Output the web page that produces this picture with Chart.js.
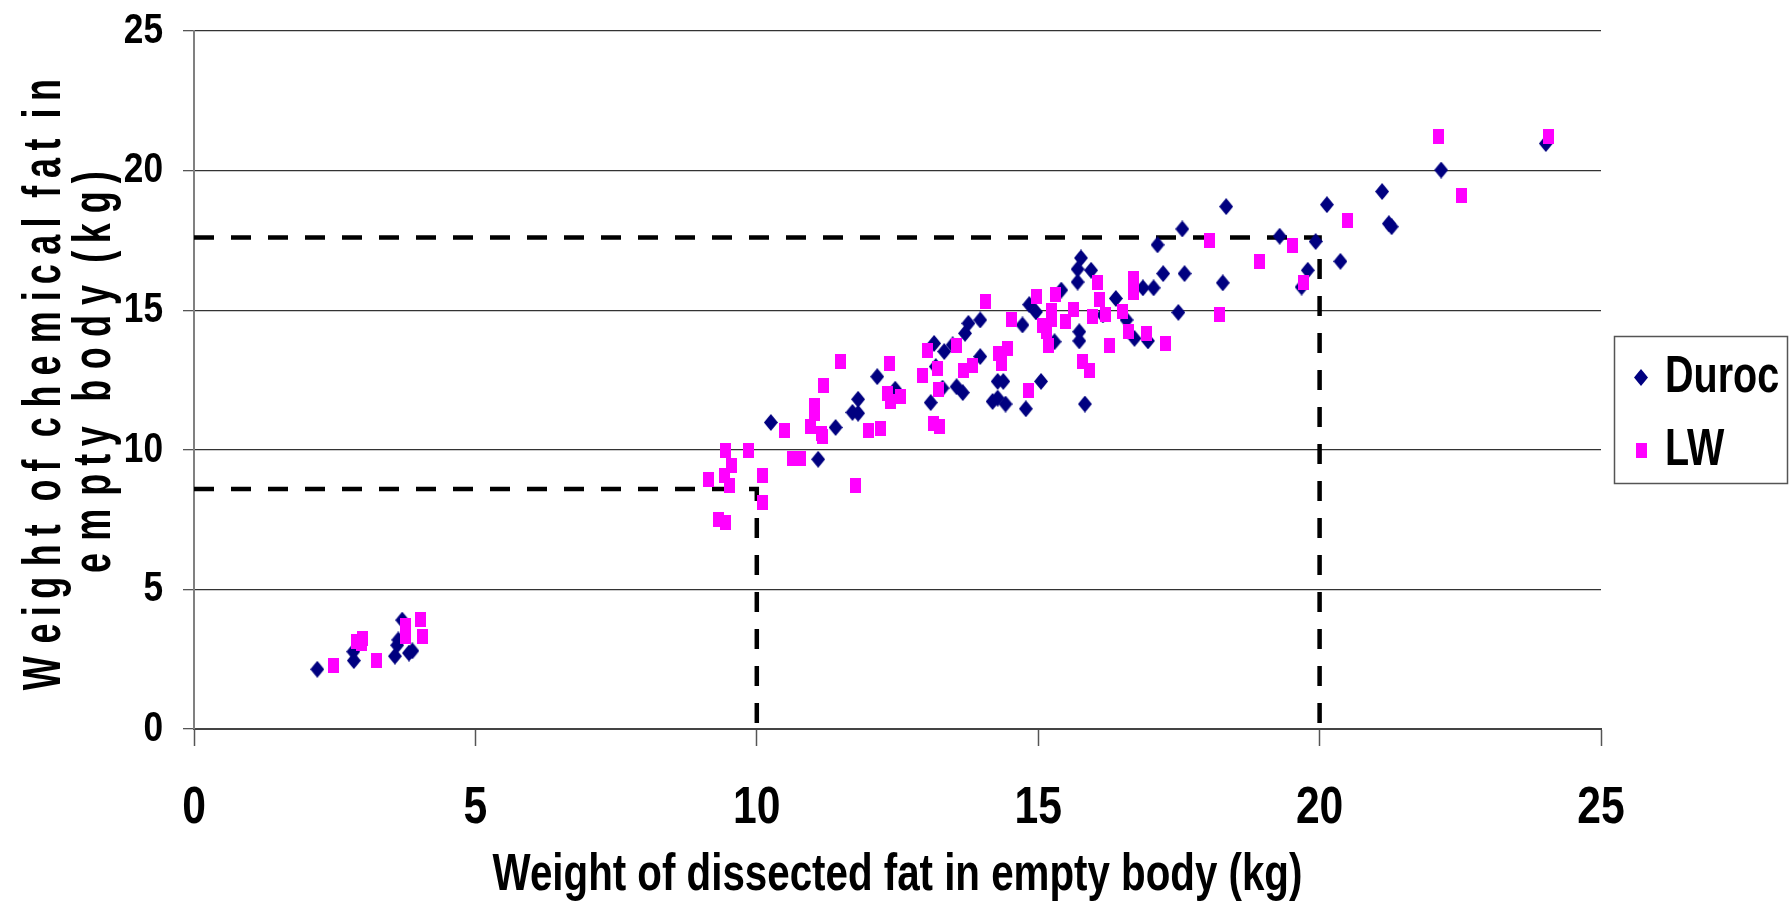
<!DOCTYPE html>
<html>
<head>
<meta charset="utf-8">
<script src="https://cdn.jsdelivr.net/npm/chart.js@4.4.0/dist/chart.umd.min.js"></script>
<style>
  html, body { margin: 0; padding: 0; background: #fff; }
  #wrap { width: 1789px; height: 909px; }
</style>
</head>
<body>
<div id="wrap"><canvas id="fatChart" width="1789" height="909"></canvas></div>
<script>
// [dissected fat, chemical fat] in kg
const durocData = [
  [2.19, 2.14], [2.83, 2.77], [2.84, 2.45], [3.70, 3.90], [3.63, 3.19], [3.61, 3.00],
  [3.57, 2.61], [3.88, 2.80], [3.82, 2.72],
  [10.25, 10.98], [11.40, 10.80], [11.09, 9.66], [11.80, 11.81], [11.70, 11.34], [11.80, 11.31],
  [13.09, 11.69], [13.55, 12.26], [13.66, 12.05], [12.46, 12.17], [12.14, 12.62], [13.15, 13.81],
  [13.33, 13.52], [13.48, 13.76], [13.18, 12.98], [13.30, 12.21], [13.70, 14.17], [13.76, 14.53],
  [13.97, 14.65], [13.97, 13.34], [14.28, 12.45], [14.38, 12.45], [14.19, 11.73], [14.28, 11.85],
  [14.42, 11.64], [14.72, 14.47], [14.78, 11.47], [15.05, 12.45], [14.84, 15.20], [14.96, 14.94],
  [15.29, 13.87], [15.41, 15.72], [15.76, 16.87], [15.70, 16.47], [15.70, 16.01], [15.94, 16.43],
  [15.73, 14.23], [15.73, 13.90], [15.83, 11.64], [16.38, 15.42], [16.15, 14.83], [16.57, 14.65],
  [16.71, 13.99], [16.95, 13.90], [16.86, 15.80], [17.05, 15.80], [17.22, 16.31], [17.49, 14.92],
  [17.56, 17.91], [17.12, 17.34], [17.60, 16.31], [18.34, 18.71], [18.28, 15.98], [19.29, 17.65],
  [19.93, 17.46], [20.13, 18.78], [20.37, 16.75], [19.79, 16.43], [19.68, 15.83], [21.11, 19.25],
  [21.23, 18.10], [21.28, 17.99], [22.16, 20.02], [24.02, 20.97]
];

const lwData = [
  [2.48, 2.26], [2.89, 3.13], [2.98, 3.08], [3.00, 3.25], [3.25, 2.44], [3.75, 3.72],
  [3.75, 3.33], [4.03, 3.93], [4.06, 3.33],
  [9.45, 9.97], [9.86, 9.97], [9.55, 9.43], [9.15, 8.94], [9.42, 9.07], [9.52, 8.73],
  [10.10, 9.07], [10.10, 8.11], [9.32, 7.49], [9.45, 7.39], [10.50, 10.68], [11.02, 11.57],
  [11.03, 11.31], [10.95, 10.85], [11.15, 10.59], [11.16, 10.47], [11.18, 12.32], [10.64, 9.69],
  [10.77, 9.69], [11.75, 8.73], [11.99, 10.68], [12.19, 10.77], [12.33, 12.00], [12.37, 11.72],
  [12.56, 11.90], [13.14, 10.95], [13.24, 10.85], [13.23, 12.15], [11.49, 13.18], [12.36, 13.10],
  [12.94, 12.66], [13.04, 13.54], [13.21, 12.92], [13.55, 13.72], [13.68, 12.83], [13.83, 13.01],
  [14.06, 15.30], [14.30, 13.46], [14.46, 13.64], [14.35, 13.10], [14.53, 14.68], [14.83, 12.11],
  [14.97, 15.48], [15.08, 14.44], [15.14, 14.23], [15.18, 13.73], [15.23, 15.00], [15.23, 14.65],
  [15.31, 15.56], [15.49, 14.61], [15.62, 15.04], [15.78, 13.18], [15.91, 12.83], [15.96, 14.76],
  [16.06, 16.01], [16.09, 15.40], [16.20, 14.85], [16.26, 13.72], [16.49, 14.94], [16.60, 14.25],
  [16.69, 16.13], [16.69, 15.63], [16.93, 14.17], [17.27, 13.81], [18.05, 17.50], [19.51, 17.32],
  [20.49, 18.21], [18.93, 16.73], [19.71, 16.01], [18.22, 14.85], [22.11, 21.21], [24.07, 21.21],
  [22.52, 19.10]
];

// dashed read-off guides
const guideLow = [[0, 8.6], [10, 8.6], [10, 0]];
const guideHigh = [[0, 17.6], [20, 17.6], [20, 0]];

const axisTicks = [0, 5, 10, 15, 20, 25];
const legendLabels = ['Duroc', 'LW'];
const xTitle = 'Weight of dissected fat in empty body (kg)';
const yTitle = ['Weight of chemical fat in', 'empty body (kg)'];

const DUROC_COLOR = '#000080';
const LW_COLOR = '#ff00ff';
const FONT = "'Liberation Sans', Arial, sans-serif";

function toPoints(rows) {
    return rows.map(r => ({ x: r[0], y: r[1] }));
}

function makeDiamond(w, h, color) {
    let c = document.createElement('canvas');
    c.width = w;
    c.height = h;
    let g = c.getContext('2d');
    g.fillStyle = color;
    g.beginPath();
    g.moveTo(w / 2, 0);
    g.lineTo(w, h / 2);
    g.lineTo(w / 2, h);
    g.lineTo(0, h / 2);
    g.closePath();
    g.fill();
    return c;
}

function makeBox(w, h, color) {
    let c = document.createElement('canvas');
    c.width = w;
    c.height = h;
    let g = c.getContext('2d');
    g.fillStyle = color;
    g.fillRect(0, 0, w, h);
    return c;
}

const durocMarker = makeDiamond(14, 17, DUROC_COLOR);
const lwMarker = makeBox(11, 15, LW_COLOR);

function guideDataset(label, rows) {
    return {
        label: label,
        data: toPoints(rows),
        showLine: true,
        borderColor: '#000',
        borderWidth: 4.5,
        borderDash: [20, 17],
        borderCapStyle: 'butt',
        borderJoinStyle: 'miter',
        pointRadius: 0,
        fill: false,
        order: 2,
    };
}

// the original text is horizontally condensed, so draw it squeezed
function drawSqueezed(ctx, text, x, y, k) {
    ctx.save();
    ctx.translate(x, y);
    ctx.scale(k, 1);
    ctx.fillText(text, 0, 0);
    ctx.restore();
}

const squeezedText = {
    id: 'squeezedText',
    afterDraw(chart, args, opts) {
        let ctx = chart.ctx;
        let xs = chart.scales.x;
        let ys = chart.scales.y;
        ctx.save();
        ctx.fillStyle = '#000';
        ctx.textBaseline = 'middle';

        ctx.font = 'bold ' + opts.xTickSize + 'px ' + FONT;
        ctx.textAlign = 'center';
        xs.ticks.forEach(t => {
            drawSqueezed(ctx, t.label, xs.getPixelForValue(t.value), xs.top + opts.xTickOffset, opts.squeeze);
        });

        ctx.font = 'bold ' + opts.yTickSize + 'px ' + FONT;
        ctx.textAlign = 'right';
        ys.ticks.forEach(t => {
            drawSqueezed(ctx, t.label, ys.right - opts.yTickOffset, ys.getPixelForValue(t.value), opts.squeeze);
        });

        ctx.font = 'bold ' + opts.titleSize + 'px ' + FONT;
        ctx.textAlign = 'center';
        drawSqueezed(ctx, xTitle, (xs.left + xs.right) / 2, xs.top + opts.titleOffset, opts.titleSqueeze);

        // rotated y title: glyphs are thin along the line but keep normal spacing
        ctx.font = 'bold ' + opts.yTitleSize + 'px ' + FONT;
        ctx.textBaseline = 'alphabetic';
        ctx.rotate(-Math.PI / 2);
        yTitle.forEach((line, i) => {
            let chars = Array.from(line);
            let widths = chars.map(ch => ctx.measureText(ch).width);
            let u = -opts.yTitleCenters[i] - widths.reduce((a, b) => a + b, 0) / 2;
            chars.forEach((ch, j) => {
                drawSqueezed(ctx, ch, u + widths[j] / 2, opts.yTitleBaselines[i], opts.yTitleSqueeze);
                u += widths[j];
            });
        });
        ctx.restore();
    }
};

// excel-like legend box to the right of the plot
const boxLegend = {
    id: 'boxLegend',
    afterDraw(chart, args, opts) {
        let ctx = chart.ctx;
        ctx.save();
        ctx.strokeStyle = opts.borderColor;
        ctx.lineWidth = opts.borderWidth;
        ctx.strokeRect(opts.left, opts.top, opts.width, opts.height);
        ctx.font = 'bold ' + opts.fontSize + 'px ' + FONT;
        ctx.fillStyle = '#000';
        ctx.textBaseline = 'middle';
        ctx.textAlign = 'left';
        opts.labels.forEach((label, i) => {
            let ds = chart.data.datasets.find(d => d.label === label);
            let y = opts.top + opts.firstRow + i * opts.rowGap;
            let img = ds.pointStyle;
            ctx.drawImage(img, Math.round(opts.markerX - img.width / 2), Math.round(y - img.height / 2));
            drawSqueezed(ctx, label, opts.textX, y, opts.squeeze);
        });
        ctx.restore();
    }
};

let config = {
    type: 'scatter',
    data: {
        datasets: [
            {
                label: 'LW',
                data: toPoints(lwData),
                pointStyle: lwMarker,
                pointRadius: 7,
                backgroundColor: LW_COLOR,
                borderColor: LW_COLOR,
                order: 0,
            },
            {
                label: 'Duroc',
                data: toPoints(durocData),
                pointStyle: durocMarker,
                pointRadius: 7,
                backgroundColor: DUROC_COLOR,
                borderColor: DUROC_COLOR,
                order: 1,
            },
            guideDataset('guideLow', guideLow),
            guideDataset('guideHigh', guideHigh),
        ],
    },
    options: {
        responsive: false,
        animation: false,
        devicePixelRatio: 1,
        events: [],
        layout: {
            padding: { left: 0, top: 31, right: 188, bottom: 0 },
        },
        plugins: {
            legend: { display: false },
            tooltip: { enabled: false },
            squeezedText: {
                squeeze: 0.82,
                xTickSize: 52,
                xTickOffset: 80,
                yTickSize: 43,
                yTickOffset: 31,
                titleSize: 52,
                titleSqueeze: 0.775,
                titleOffset: 147,
                yTitleSize: 53,
                yTitleSqueeze: 0.68,
                yTitleCenters: [386, 373],
                yTitleBaselines: [60, 110],
            },
            boxLegend: {
                labels: legendLabels,
                left: 1614.5,
                top: 336.5,
                width: 173,
                height: 147,
                borderColor: '#555',
                borderWidth: 1.5,
                fontSize: 52,
                squeeze: 0.76,
                firstRow: 41,
                rowGap: 73,
                markerX: 1641,
                textX: 1665,
            },
        },
        scales: {
            x: {
                type: 'linear',
                min: 0,
                max: 25,
                afterBuildTicks: s => { s.ticks = axisTicks.map(v => ({ value: v })); },
                afterFit: s => {
                    s.height = 180;
                    s.paddingLeft = 0;
                    s.paddingRight = 0;
                },
                grid: {
                    drawOnChartArea: false,
                    tickLength: 17,
                    tickColor: '#555',
                    tickWidth: 1.5,
                },
                border: { color: '#444', width: 2 },
                ticks: { display: false },
            },
            y: {
                type: 'linear',
                min: 0,
                max: 25,
                afterBuildTicks: s => { s.ticks = axisTicks.map(v => ({ value: v })); },
                afterFit: s => {
                    s.width = 194;
                    s.paddingTop = 0;
                    s.paddingBottom = 0;
                },
                grid: {
                    color: '#333',
                    lineWidth: 1.3,
                    tickLength: 11,
                    tickColor: '#555',
                },
                border: { color: '#808080', width: 2 },
                ticks: { display: false },
            },
        },
    },
    plugins: [squeezedText, boxLegend],
};

let fatChartElement = document.getElementById('fatChart');
let fatChart = new Chart(fatChartElement, config);
</script>
</body>
</html>
